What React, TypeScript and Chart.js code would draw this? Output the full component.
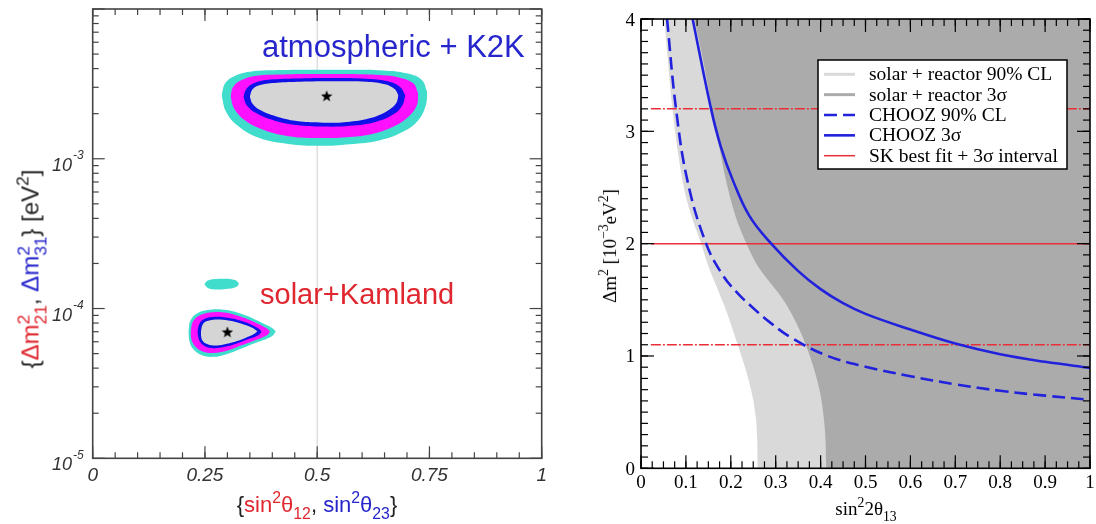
import React, { useEffect, useRef } from 'react';
import { Chart, registerables } from 'chart.js';

Chart.register(...registerables);

type P = [number, number];

/* =================== LEFT PANEL DATA =================== */
// atmospheric + K2K region (x = sin^2 theta23, y = dm^2_31 [eV^2]); outlines split in upper / lower edges
const ATM_3SIG_UPPER: P[] = [[0.287, 2.66e-3], [0.295, 3.19e-3], [0.313, 3.53e-3], [0.35, 3.81e-3], [0.425, 3.91e-3], [0.499, 3.93e-3], [0.573, 3.93e-3], [0.647, 3.89e-3], [0.699, 3.72e-3], [0.733, 3.36e-3], [0.745, 2.8e-3]];
const ATM_3SIG_LOWER: P[] = [[0.287, 2.66e-3], [0.297, 2.06e-3], [0.321, 1.68e-3], [0.365, 1.4e-3], [0.425, 1.27e-3], [0.499, 1.22e-3], [0.573, 1.25e-3], [0.64, 1.33e-3], [0.692, 1.52e-3], [0.725, 1.81e-3], [0.742, 2.28e-3], [0.745, 2.8e-3]];
const ATM_99_UPPER: P[] = [[0.307, 2.6e-3], [0.313, 3.03e-3], [0.332, 3.36e-3], [0.365, 3.59e-3], [0.425, 3.66e-3], [0.499, 3.68e-3], [0.573, 3.68e-3], [0.64, 3.62e-3], [0.684, 3.48e-3], [0.714, 3.19e-3], [0.725, 2.73e-3]];
const ATM_99_LOWER: P[] = [[0.307, 2.6e-3], [0.315, 2.17e-3], [0.339, 1.81e-3], [0.38, 1.56e-3], [0.432, 1.42e-3], [0.499, 1.375e-3], [0.573, 1.4e-3], [0.625, 1.47e-3], [0.67, 1.64e-3], [0.703, 1.91e-3], [0.722, 2.28e-3], [0.725, 2.73e-3]];
const ATM_90_UPPER: P[] = [[0.3355, 2.6e-3], [0.343, 2.95e-3], [0.3615, 3.22e-3], [0.402, 3.39e-3], [0.462, 3.44e-3], [0.536, 3.46e-3], [0.61, 3.42e-3], [0.655, 3.3e-3], [0.684, 3.03e-3], [0.696, 2.66e-3]];
const ATM_90_LOWER: P[] = [[0.3355, 2.6e-3], [0.343, 2.28e-3], [0.365, 2.01e-3], [0.402, 1.81e-3], [0.454, 1.68e-3], [0.514, 1.64e-3], [0.573, 1.66e-3], [0.632, 1.77e-3], [0.67, 1.98e-3], [0.69, 2.28e-3], [0.696, 2.66e-3]];
const ATM_IN_UPPER: P[] = [[0.35, 2.6e-3], [0.356, 2.91e-3], [0.373, 3.11e-3], [0.41, 3.22e-3], [0.462, 3.27e-3], [0.536, 3.29e-3], [0.61, 3.27e-3], [0.651, 3.14e-3], [0.673, 2.91e-3], [0.681, 2.64e-3]];
const ATM_IN_LOWER: P[] = [[0.35, 2.6e-3], [0.3555, 2.34e-3], [0.373, 2.115e-3], [0.406, 1.93e-3], [0.454, 1.785e-3], [0.514, 1.74e-3], [0.573, 1.77e-3], [0.621, 1.88e-3], [0.655, 2.08e-3], [0.6755, 2.34e-3], [0.681, 2.64e-3]];
const ATM_BEST: P[] = [[0.521, 2.63e-3]];

// solar + KamLAND region (x = sin^2 theta12, y = dm^2_21 [eV^2])
const SOL_3SIG_UPPER: P[] = [[0.213, 6.99e-5], [0.218, 8.36e-5], [0.235, 9.37e-5], [0.265, 9.86e-5], [0.298, 9.76e-5], [0.332, 9.18e-5], [0.365, 8.36e-5], [0.395, 7.55e-5], [0.408, 7.06e-5]];
const SOL_3SIG_LOWER: P[] = [[0.213, 6.99e-5], [0.215, 6.15e-5], [0.223, 5.41e-5], [0.243, 4.88e-5], [0.269, 4.76e-5], [0.298, 4.96e-5], [0.332, 5.41e-5], [0.369, 5.99e-5], [0.399, 6.54e-5], [0.408, 7.06e-5]];
const SOL_99_UPPER: P[] = [[0.218, 6.99e-5], [0.224, 8.24e-5], [0.241, 9.08e-5], [0.267, 9.46e-5], [0.298, 9.37e-5], [0.33, 8.81e-5], [0.362, 8.07e-5], [0.388, 7.36e-5], [0.395, 7.03e-5]];
const SOL_99_LOWER: P[] = [[0.218, 6.99e-5], [0.22, 6.21e-5], [0.228, 5.61e-5], [0.245, 5.17e-5], [0.269, 5.04e-5], [0.298, 5.22e-5], [0.328, 5.64e-5], [0.362, 6.15e-5], [0.388, 6.64e-5], [0.395, 7.03e-5]];
const SOL_90_UPPER: P[] = [[0.233, 6.99e-5], [0.238, 7.95e-5], [0.25, 8.54e-5], [0.272, 8.81e-5], [0.302, 8.67e-5], [0.332, 8.24e-5], [0.358, 7.67e-5], [0.374, 7.17e-5], [0.376, 6.96e-5]];
const SOL_90_LOWER: P[] = [[0.233, 6.99e-5], [0.235, 6.47e-5], [0.239, 5.99e-5], [0.25, 5.61e-5], [0.269, 5.44e-5], [0.295, 5.55e-5], [0.321, 5.84e-5], [0.347, 6.25e-5], [0.369, 6.64e-5], [0.376, 6.96e-5]];
const SOL_IN_UPPER: P[] = [[0.241, 6.99e-5], [0.245, 7.83e-5], [0.255, 8.24e-5], [0.274, 8.45e-5], [0.302, 8.32e-5], [0.33, 7.95e-5], [0.354, 7.47e-5], [0.367, 7.06e-5]];
const SOL_IN_LOWER: P[] = [[0.241, 6.99e-5], [0.2415, 6.54e-5], [0.244, 6.15e-5], [0.252, 5.84e-5], [0.269, 5.67e-5], [0.292, 5.75e-5], [0.317, 5.99e-5], [0.341, 6.37e-5], [0.359, 6.75e-5], [0.367, 7.06e-5]];
const SOL_ISLAND_UPPER: P[] = [[0.2486, 1.455e-4], [0.2553, 1.532e-4], [0.2724, 1.572e-4], [0.2947, 1.58e-4], [0.3169, 1.548e-4], [0.3258, 1.47e-4]];
const SOL_ISLAND_LOWER: P[] = [[0.2486, 1.455e-4], [0.2575, 1.368e-4], [0.2761, 1.34e-4], [0.3021, 1.354e-4], [0.3206, 1.397e-4], [0.3258, 1.47e-4]];
const SOL_BEST: P[] = [[0.3, 6.99e-5]];

const MAXIMAL_MIXING: P[] = [[0.5, 1e-5], [0.5, 1e-2]];

const LEFT_X_MAJOR = [0, 0.25, 0.5, 0.75, 1];
const LEFT_X_LABELS = ['0', '0.25', '0.5', '0.75', '1'];
const LEFT_Y_DECADES = [-5, -4, -3, -2];
const LEFT_Y_LABELED = [-5, -4, -3];

/* =================== RIGHT PANEL DATA =================== */
// allowed-region edges (x = sin^2 2theta13, y = dm^2 [1e-3 eV^2]); regions lie right of the edge
const SOLAR_REACTOR_90: P[] = [[0.052, 4.0], [0.07, 3.2], [0.093, 2.55], [0.112, 2.25], [0.134, 2.0], [0.15, 1.8], [0.17, 1.6], [0.19, 1.4], [0.212, 1.14], [0.23, 0.92], [0.245, 0.7], [0.254, 0.5], [0.259, 0.25], [0.26, 0], [1, 0]];
const SOLAR_REACTOR_3S: P[] = [[0.119, 4.0], [0.14, 3.6], [0.158, 3.2], [0.175, 2.85], [0.19, 2.55], [0.21, 2.25], [0.235, 2.0], [0.26, 1.8], [0.29, 1.64], [0.32, 1.48], [0.345, 1.3], [0.362, 1.15], [0.376, 1.0], [0.39, 0.82], [0.4, 0.65], [0.407, 0.45], [0.411, 0.25], [0.413, 0], [1, 0]];
const CHOOZ_90: P[] = [[0.058, 4.0], [0.078, 3.2], [0.104, 2.55], [0.145, 2.0], [0.182, 1.72], [0.215, 1.56], [0.249, 1.43], [0.29, 1.29], [0.338, 1.155], [0.416, 1.0], [0.5, 0.905], [0.6, 0.82], [0.7, 0.748], [0.8, 0.69], [0.9, 0.647], [1.0, 0.61]];
const CHOOZ_3S: P[] = [[0.115, 4.0], [0.156, 3.2], [0.178, 2.86], [0.204, 2.57], [0.241, 2.25], [0.29, 2.0], [0.349, 1.76], [0.4, 1.595], [0.45, 1.47], [0.5, 1.375], [0.6, 1.235], [0.7, 1.11], [0.8, 1.015], [0.9, 0.948], [1.0, 0.894]];
const SK_BEST_FIT = 2.0;
const SK_3S_LOW = 1.1;
const SK_3S_HIGH = 3.2;
const SK_X_RANGE = [0.022, 1];

const RIGHT_X_MAJOR = [0, 0.1, 0.2, 0.3, 0.4, 0.5, 0.6, 0.7, 0.8, 0.9, 1];
const RIGHT_X_LABELS = ['0', '0.1', '0.2', '0.3', '0.4', '0.5', '0.6', '0.7', '0.8', '0.9', '1'];
const RIGHT_Y_MAJOR = [0, 1, 2, 3, 4];
const RIGHT_Y_LABELS = ['0', '1', '2', '3', '4'];
const LEGEND_LABELS = ['solar + reactor 90% CL', 'solar + reactor 3\u03c3', 'CHOOZ 90% CL', 'CHOOZ 3\u03c3', 'SK best fit + 3\u03c3 interval'];

/* =================== STYLES =================== */
const CYAN = '#40dccc';
const MAGENTA = '#ff10ff';
const RING_BLUE = '#1010e8';
const INNER_GRAY = '#d5d5d5';
const TXT_RED = '#e0262e';
const TXT_BLUE = '#2626cc';
const LINE_BLUE = '#2222dd';
const LINE_RED = '#e8303a';
const SANS = '"Liberation Sans", Arial, sans-serif';
const SERIF = '"Liberation Serif", "Times New Roman", serif';

const pts = (a: P[]) => a.map(([x, y]) => ({ x, y }));
const steps = (min: number, max: number, step: number) => {
  const n = Math.round((max - min) / step);
  return Array.from({ length: n + 1 }, (_, i) => +(min + i * step).toFixed(6));
};

function band(upper: P[], lower: P[], color: string, order: number) {
  return [
    { data: pts(upper), fill: '+1', backgroundColor: color, borderWidth: 0, pointRadius: 0, tension: 0.4, order },
    { data: pts(lower), fill: false, borderWidth: 0, pointRadius: 0, tension: 0.4, order },
  ];
}

function makeStar(size: number) {
  const c = document.createElement('canvas');
  c.width = size;
  c.height = size;
  const g = c.getContext('2d')!;
  const R = size / 2;
  const r = R * 0.42;
  g.beginPath();
  for (let i = 0; i < 10; i++) {
    const ang = -Math.PI / 2 + (i * Math.PI) / 5;
    const rad = i % 2 === 0 ? R : r;
    const px = R + rad * Math.cos(ang);
    const py = R + 0.6 + rad * Math.sin(ang);
    if (i === 0) g.moveTo(px, py);
    else g.lineTo(px, py);
  }
  g.closePath();
  g.fillStyle = '#000';
  g.fill();
  return c;
}

type FrameCfg = {
  color: string;
  frameWidth: number;
  tickWidth: number;
  majorLen: number;
  minorLen: number;
  xMajor: number[];
  xMinor: number[];
  yMajor: number[];
  yMinor: number[];
  labels: (chart: any, ctx: CanvasRenderingContext2D) => void;
};

function framePlugin(cfg: FrameCfg) {
  return {
    id: 'frameTicks',
    afterDatasetsDraw(chart: any) {
      const { ctx, chartArea: a, scales } = chart;
      const xs = scales.x;
      const ys = scales.y;
      ctx.save();
      ctx.strokeStyle = cfg.color;
      ctx.lineWidth = cfg.tickWidth;
      const seg = (x1: number, y1: number, x2: number, y2: number) => {
        ctx.beginPath();
        ctx.moveTo(x1, y1);
        ctx.lineTo(x2, y2);
        ctx.stroke();
      };
      const groups: [number[], number][] = [[cfg.xMinor, cfg.minorLen], [cfg.xMajor, cfg.majorLen]];
      for (const [vals, len] of groups) {
        for (const v of vals) {
          const px = xs.getPixelForValue(v);
          seg(px, a.bottom, px, a.bottom - len);
          seg(px, a.top, px, a.top + len);
        }
      }
      const ygroups: [number[], number][] = [[cfg.yMinor, cfg.minorLen], [cfg.yMajor, cfg.majorLen]];
      for (const [vals, len] of ygroups) {
        for (const v of vals) {
          const py = ys.getPixelForValue(v);
          seg(a.left, py, a.left + len, py);
          seg(a.right, py, a.right - len, py);
        }
      }
      ctx.lineWidth = cfg.frameWidth;
      ctx.strokeRect(a.left, a.top, a.right - a.left, a.bottom - a.top);
      cfg.labels(chart, ctx);
      ctx.restore();
    },
  };
}

function leftConfig(star: HTMLCanvasElement): any {
  const yMajor = LEFT_Y_DECADES.map((d) => Math.pow(10, d));
  const yMinor: number[] = [];
  LEFT_Y_DECADES.slice(0, -1).forEach((d) => {
    for (let k = 2; k <= 9; k++) yMinor.push(k * Math.pow(10, d));
  });
  const datasets: any[] = [
    { data: pts(MAXIMAL_MIXING), borderColor: '#cfcfcf', borderWidth: 1, pointRadius: 0, fill: false, order: 100 },
    ...band(ATM_3SIG_UPPER, ATM_3SIG_LOWER, CYAN, 90),
    ...band(ATM_99_UPPER, ATM_99_LOWER, MAGENTA, 80),
    ...band(ATM_90_UPPER, ATM_90_LOWER, RING_BLUE, 70),
    ...band(ATM_IN_UPPER, ATM_IN_LOWER, INNER_GRAY, 60),
    ...band(SOL_ISLAND_UPPER, SOL_ISLAND_LOWER, CYAN, 90),
    ...band(SOL_3SIG_UPPER, SOL_3SIG_LOWER, CYAN, 90),
    ...band(SOL_99_UPPER, SOL_99_LOWER, MAGENTA, 80),
    ...band(SOL_90_UPPER, SOL_90_LOWER, RING_BLUE, 70),
    ...band(SOL_IN_UPPER, SOL_IN_LOWER, INNER_GRAY, 60),
    { data: pts(ATM_BEST), showLine: false, pointStyle: star, pointRadius: 6, order: 0 },
    { data: pts(SOL_BEST), showLine: false, pointStyle: star, pointRadius: 6, order: 0 },
  ];
  const labels = (chart: any, ctx: CanvasRenderingContext2D) => {
    const a = chart.chartArea;
    const xs = chart.scales.x;
    const ys = chart.scales.y;
    ctx.fillStyle = '#333';
    ctx.textAlign = 'center';
    ctx.textBaseline = 'alphabetic';
    ctx.font = `italic 19px ${SANS}`;
    LEFT_X_MAJOR.forEach((v, i) => ctx.fillText(LEFT_X_LABELS[i], xs.getPixelForValue(v), a.bottom + 22.5));
    LEFT_Y_LABELED.forEach((d) => {
      const py = ys.getPixelForValue(Math.pow(10, d));
      const exp = String(d);
      ctx.font = `italic 12px ${SANS}`;
      const w2 = ctx.measureText(exp).width;
      ctx.font = `italic 18px ${SANS}`;
      const w1 = ctx.measureText('10').width;
      const right = a.left - 9;
      ctx.textAlign = 'left';
      ctx.fillText('10', right - w2 - w1 - 1, py + 12);
      ctx.font = `italic 12px ${SANS}`;
      ctx.fillText(exp, right - w2, py + 0.5);
    });
    // region annotations
    ctx.textAlign = 'left';
    ctx.font = `31px ${SANS}`;
    ctx.fillStyle = TXT_BLUE;
    ctx.fillText('atmospheric + K2K', 262, 57);
    ctx.font = `29px ${SANS}`;
    ctx.fillStyle = TXT_RED;
    ctx.fillText('solar+Kamland', 260, 304);
  };
  return {
    type: 'line',
    data: { datasets },
    options: {
      responsive: false,
      animation: false,
      events: [],
      layout: { padding: { left: 92.7, right: 18.3, top: 9, bottom: 65.7 } },
      plugins: { legend: { display: false }, tooltip: { enabled: false } },
      scales: {
        x: { type: 'linear', min: 0, max: 1, display: false },
        y: { type: 'logarithmic', min: 1e-5, max: 1e-2, display: false },
      },
    },
    plugins: [
      framePlugin({
        color: '#444',
        frameWidth: 1.6,
        tickWidth: 1.2,
        majorLen: 12,
        minorLen: 6,
        xMajor: LEFT_X_MAJOR,
        xMinor: steps(0, 1, 0.05),
        yMajor,
        yMinor,
        labels,
      }),
    ],
  };
}

function rightConfig(): any {
  const datasets: any[] = [
    { label: LEGEND_LABELS[0], data: pts(SOLAR_REACTOR_90), fill: 'end', backgroundColor: '#d9d9d9', borderColor: '#d9d9d9', borderWidth: 0, pointRadius: 0, cubicInterpolationMode: 'monotone', order: 50 },
    { label: LEGEND_LABELS[1], data: pts(SOLAR_REACTOR_3S), fill: 'end', backgroundColor: '#ababab', borderColor: '#ababab', borderWidth: 0, pointRadius: 0, cubicInterpolationMode: 'monotone', order: 40 },
    { label: LEGEND_LABELS[4], data: pts(SK_X_RANGE.map((x) => [x, SK_BEST_FIT] as P)), borderColor: LINE_RED, borderWidth: 1.5, pointRadius: 0, fill: false, order: 30 },
    { data: pts(SK_X_RANGE.map((x) => [x, SK_3S_HIGH] as P)), borderColor: LINE_RED, borderWidth: 1.5, borderDash: [10, 2, 2, 2], pointRadius: 0, fill: false, order: 30 },
    { data: pts(SK_X_RANGE.map((x) => [x, SK_3S_LOW] as P)), borderColor: LINE_RED, borderWidth: 1.5, borderDash: [10, 2, 2, 2], pointRadius: 0, fill: false, order: 30 },
    { label: LEGEND_LABELS[2], data: pts(CHOOZ_90), borderColor: LINE_BLUE, borderWidth: 2.6, borderDash: [13, 6], pointRadius: 0, fill: false, tension: 0.4, order: 10 },
    { label: LEGEND_LABELS[3], data: pts(CHOOZ_3S), borderColor: LINE_BLUE, borderWidth: 2.6, pointRadius: 0, fill: false, tension: 0.4, order: 10 },
  ];
  const legendOrder = [0, 1, 5, 6, 2];
  const labels = (chart: any, ctx: CanvasRenderingContext2D) => {
    const a = chart.chartArea;
    const xs = chart.scales.x;
    const ys = chart.scales.y;
    ctx.fillStyle = '#000';
    ctx.font = `19px ${SERIF}`;
    ctx.textAlign = 'center';
    ctx.textBaseline = 'alphabetic';
    RIGHT_X_MAJOR.forEach((v, i) => ctx.fillText(RIGHT_X_LABELS[i], xs.getPixelForValue(v), a.bottom + 20));
    ctx.textAlign = 'right';
    RIGHT_Y_MAJOR.forEach((v, i) => ctx.fillText(RIGHT_Y_LABELS[i], a.left - 6, ys.getPixelForValue(v) + 6.5));
    // legend box
    const bx = a.left + 177;
    const by = a.top + 41;
    const bw = 249;
    const bh = 109;
    ctx.fillStyle = '#fff';
    ctx.fillRect(bx, by, bw, bh);
    ctx.strokeStyle = '#000';
    ctx.lineWidth = 1.5;
    ctx.strokeRect(bx, by, bw, bh);
    legendOrder.forEach((idx, row) => {
      const ds = chart.data.datasets[idx];
      const y = by + 14.3 + row * 20.35;
      ctx.save();
      ctx.beginPath();
      ctx.strokeStyle = ds.fill && ds.fill !== false ? ds.backgroundColor : ds.borderColor;
      ctx.lineWidth = ds.fill && ds.fill !== false ? 3 : Math.max(ds.borderWidth, 1.5);
      ctx.setLineDash(ds.borderDash || []);
      ctx.moveTo(bx + 6, y);
      ctx.lineTo(bx + 37, y);
      ctx.stroke();
      ctx.restore();
      ctx.fillStyle = '#000';
      ctx.textAlign = 'left';
      ctx.font = `19.5px ${SERIF}`;
      ctx.fillText(ds.label, bx + 51, y + 6);
    });
  };
  return {
    type: 'line',
    data: { datasets },
    options: {
      responsive: false,
      animation: false,
      events: [],
      layout: { padding: { left: 81, right: 6, top: 19, bottom: 55.7 } },
      plugins: { legend: { display: false }, tooltip: { enabled: false } },
      scales: {
        x: { type: 'linear', min: 0, max: 1, display: false },
        y: { type: 'linear', min: 0, max: 4, display: false },
      },
    },
    plugins: [
      framePlugin({
        color: '#000',
        frameWidth: 1.6,
        tickWidth: 1.2,
        majorLen: 13,
        minorLen: 7,
        xMajor: RIGHT_X_MAJOR,
        xMinor: steps(0, 1, 0.025),
        yMajor: RIGHT_Y_MAJOR,
        yMinor: steps(0, 4, 0.1),
        labels,
      }),
    ],
  };
}

const Sup = ({ t }: { t: string }) => <span style={{ fontSize: '0.72em', verticalAlign: '0.58em' }}>{t}</span>;
const Sub = ({ t }: { t: string }) => <span style={{ fontSize: '0.72em', verticalAlign: '-0.45em' }}>{t}</span>;
const Stack = ({ sup, sub }: { sup: string; sub: string }) => (
  <span style={{ display: 'inline-block', fontSize: '0.72em', lineHeight: 1, verticalAlign: '-0.45em', textAlign: 'left' }}>
    <span style={{ display: 'block' }}>{sup}</span>
    <span style={{ display: 'block' }}>{sub}</span>
  </span>
);

const centered = (cx: number, cy: number, rotate: boolean, font: string): React.CSSProperties => ({
  position: 'absolute',
  left: cx,
  top: cy,
  transform: `translate(-50%, -50%)${rotate ? ' rotate(-90deg)' : ''}`,
  whiteSpace: 'nowrap',
  font,
  lineHeight: 1,
  color: '#222',
});

export default function App() {
  const leftRef = useRef<HTMLCanvasElement>(null);
  const rightRef = useRef<HTMLCanvasElement>(null);

  useEffect(() => {
    const star = makeStar(12);
    const c1 = new Chart(leftRef.current!, leftConfig(star));
    const c2 = new Chart(rightRef.current!, rightConfig());
    return () => {
      c1.destroy();
      c2.destroy();
    };
  }, []);

  return (
    <div style={{ position: 'fixed', left: 0, top: 0, width: 1096, height: 524, background: '#fff', overflow: 'hidden' }}>
      <canvas ref={leftRef} width={560} height={524} style={{ position: 'absolute', left: 0, top: 0, width: 560, height: 524 }} />
      <canvas ref={rightRef} width={536} height={524} style={{ position: 'absolute', left: 560, top: 0, width: 536, height: 524 }} />
      {/* left panel axis titles */}
      <div style={centered(317, 506, false, `22px ${SANS}`)}>
        {'{'}
        <span style={{ color: TXT_RED }}>
          sin<Sup t="2" />θ<Sub t="12" />
        </span>
        ,{' '}
        <span style={{ color: TXT_BLUE }}>
          sin<Sup t="2" />θ<Sub t="23" />
        </span>
        {'}'}
      </div>
      <div style={centered(32, 269, true, `24px ${SANS}`)}>
        {'{'}
        <span style={{ color: TXT_RED }}>
          Δm<Stack sup="2" sub="21" />
        </span>
        ,{' '}
        <span style={{ color: TXT_BLUE }}>
          Δm<Stack sup="2" sub="31" />
        </span>
        {'}'} [eV<Sup t="2" />]
      </div>
      {/* right panel axis titles */}
      <div style={{ ...centered(866, 510, false, `19px ${SERIF}`), color: '#000' }}>
        sin<Sup t="2" />2θ<Sub t="13" />
      </div>
      <div style={{ ...centered(608, 246, true, `19px ${SERIF}`), color: '#000' }}>
        Δm<Sup t="2" /> [10<Sup t="−3" />eV<Sup t="2" />]
      </div>
    </div>
  );
}
